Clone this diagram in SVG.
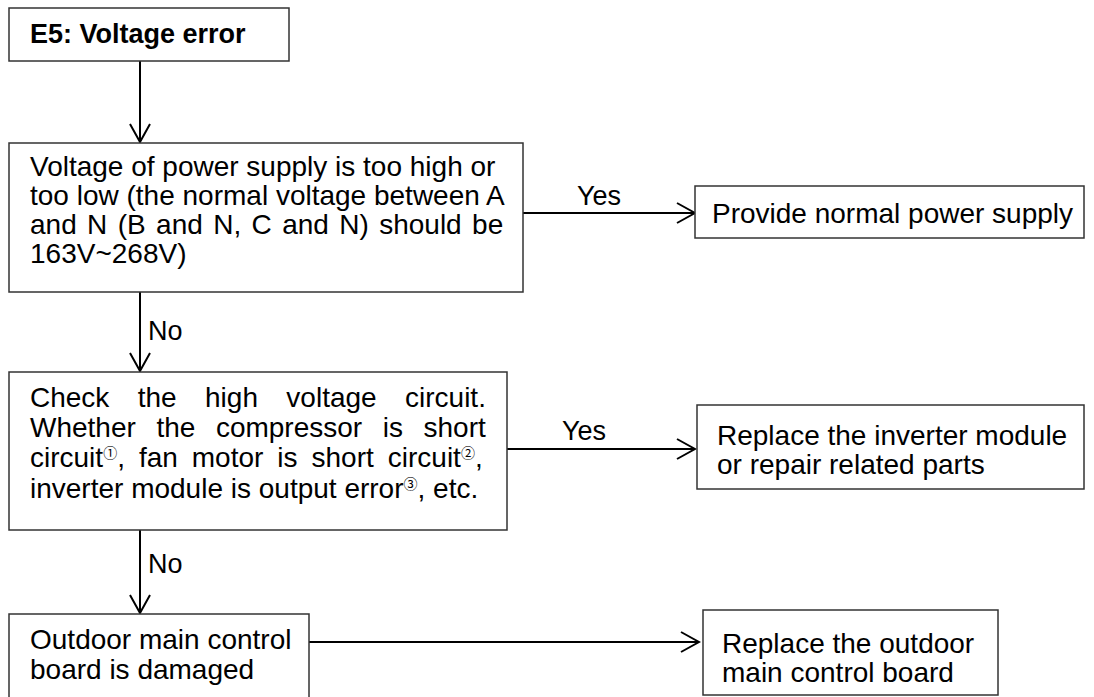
<svg xmlns="http://www.w3.org/2000/svg" width="1094" height="697" viewBox="0 0 1094 697">
<style>
.box{fill:#fff;stroke:#333;stroke-width:1.5}
.t{font-family:"Liberation Sans",Arial,"Noto Sans CJK SC",sans-serif;font-size:28px;fill:#000}
.b{font-weight:bold;font-size:27px}
.lbl{font-family:"Liberation Sans",Arial,sans-serif;font-size:27px;fill:#000}
.sup{font-size:14px;font-family:"Noto Sans CJK SC","DejaVu Sans",sans-serif}
.c{fill:none;stroke:#000;stroke-width:2}
</style>
<defs>
<marker id="ah" markerUnits="userSpaceOnUse" viewBox="0 0 22 24" refX="20" refY="12" markerWidth="22" markerHeight="24" orient="auto">
<path d="M2,2 L20,12 L2,22" fill="none" stroke="#000" stroke-width="2"/>
</marker>
</defs>
<rect width="1094" height="697" fill="#fff"/>
<g id="connectors">
<line class="c" x1="140" y1="61" x2="140" y2="142" marker-end="url(#ah)"/>
<line class="c" x1="140" y1="292" x2="140" y2="371" marker-end="url(#ah)"/>
<line class="c" x1="140" y1="530" x2="140" y2="613" marker-end="url(#ah)"/>
<line class="c" x1="523" y1="213" x2="695" y2="213" marker-end="url(#ah)"/>
<line class="c" x1="507" y1="449" x2="695" y2="449" marker-end="url(#ah)"/>
<line class="c" x1="309" y1="642" x2="699" y2="642" marker-end="url(#ah)"/>
<text class="lbl" x="577" y="205">Yes</text>
<text class="lbl" x="562" y="440">Yes</text>
<text class="lbl" x="148" y="340">No</text>
<text class="lbl" x="148" y="573">No</text>
</g>
<g id="n1">
<rect class="box" x="9" y="8" width="280" height="53"/>
<text class="t b" x="30" y="43">E5: Voltage error</text>
</g>
<g id="n2">
<rect class="box" x="9" y="143" width="514" height="149"/>
<text class="t" x="30" y="176">Voltage of power supply is too high or</text>
<text class="t" x="30" y="205">too low (the normal voltage between A</text>
<text class="t" x="30" y="234" word-spacing="2.6">and N (B and N, C and N) should be</text>
<text class="t" x="30" y="263">163V~268V)</text>
</g>
<g id="n3">
<rect class="box" x="695" y="186" width="389" height="52"/>
<text class="t" x="712" y="223">Provide normal power supply</text>
</g>
<g id="n4">
<rect class="box" x="9" y="372" width="498" height="158"/>
<text class="t" x="30" y="407" word-spacing="20.6">Check the high voltage circuit.</text>
<text class="t" x="30" y="437" word-spacing="12.8">Whether the compressor is short</text>
<text class="t" x="30" y="467" word-spacing="6.2">circuit<tspan class="sup" dy="-9">①</tspan><tspan dy="9">, fan motor is short circuit</tspan><tspan class="sup" dy="-9">②</tspan><tspan dy="9">,</tspan></text>
<text class="t" x="30" y="498">inverter module is output error<tspan class="sup" dy="-9">③</tspan><tspan dy="9">, etc.</tspan></text>
</g>
<g id="n5">
<rect class="box" x="697" y="405" width="387" height="84"/>
<text class="t" x="717" y="445">Replace the inverter module</text>
<text class="t" x="717" y="474">or repair related parts</text>
</g>
<g id="n6">
<rect class="box" x="9" y="614" width="300" height="86"/>
<text class="t" x="30" y="649">Outdoor main control</text>
<text class="t" x="30" y="679">board is damaged</text>
</g>
<g id="n7">
<rect class="box" x="703" y="610" width="295" height="85"/>
<text class="t" x="722" y="653">Replace the outdoor</text>
<text class="t" x="722" y="682">main control board</text>
</g>
</svg>
